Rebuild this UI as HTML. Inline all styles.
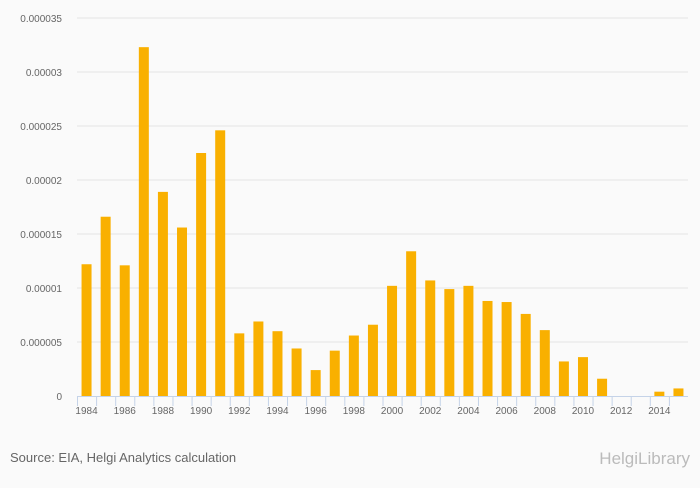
<!DOCTYPE html>
<html><head><meta charset="utf-8"><style>
body{margin:0;background:#fafafa;font-family:"Liberation Sans",sans-serif}
svg text{font-family:"Liberation Sans",sans-serif}
</style></head><body>
<svg id="c" width="700" height="483"></svg>
<script>
const years=[1984,1985,1986,1987,1988,1989,1990,1991,1992,1993,1994,1995,1996,1997,1998,1999,2000,2001,2002,2003,2004,2005,2006,2007,2008,2009,2010,2011,2012,2013,2014,2015];
const values=[12.2,16.6,12.1,32.3,18.9,15.6,22.5,24.6,5.8,6.9,6.0,4.4,2.4,4.2,5.6,6.6,10.2,13.4,10.7,9.9,10.2,8.8,8.7,7.6,6.1,3.2,3.6,1.6,0,0,0.4,0.7];
const yTicks=[0,5,10,15,20,25,30,35];
const yTickLabels=["0","0.000005","0.00001","0.000015","0.00002","0.000025","0.00003","0.000035"];
const NS="http://www.w3.org/2000/svg";
const svg=document.getElementById('c');
const x0=77,x1=688,y0=396,y1=18,ymax=35;
const step=(x1-x0)/years.length;
const X=i=>x0+step*i;
const Y=v=>y0-(v/ymax)*(y0-y1);
function mk(t,a,p){const e=document.createElementNS(NS,t);for(const k in a)e.setAttribute(k,a[k]);(p||svg).appendChild(e);return e;}
yTicks.forEach((t,i)=>{
 if(i>0){const g=mk('line',{x1:x0,x2:x1,y1:Y(t),y2:Y(t),stroke:'#e4e4e4','stroke-width':1});
 
 }
 const l=mk('text',{x:62,y:Y(t)+4,'text-anchor':'end','font-size':10,fill:'#666'});
 l.textContent=yTickLabels[i];
 
 
});
values.forEach((v,i)=>{
 const r=mk('rect',{x:X(i)+step/2-5,y:Y(v),width:10,height:y0-Y(v),fill:'#f9b000'});
 
 
});
const ax=mk('line',{x1:x0,x2:x1,y1:y0+0.5,y2:y0+0.5,stroke:'#c5d3e8','stroke-width':1});


years.forEach((yr,i)=>{
 const t=mk('line',{x1:X(i)+0.5,x2:X(i)+0.5,y1:y0,y2:y0+10,stroke:'#c5d3e8'});
 
 
 if(i%2===0){const l=mk('text',{x:X(i)+step/2,y:y0+18,'text-anchor':'middle','font-size':10,fill:'#666'});
 l.textContent=yr;
 
 }
});
const s=mk('text',{x:10,y:462,'font-size':13,fill:'#666'});
s.textContent='Source: EIA, Helgi Analytics calculation';


const b=mk('text',{x:690,y:464,'text-anchor':'end','font-size':17,fill:'#bbb'});
b.textContent='HelgiLibrary';


</script>
</body></html>
